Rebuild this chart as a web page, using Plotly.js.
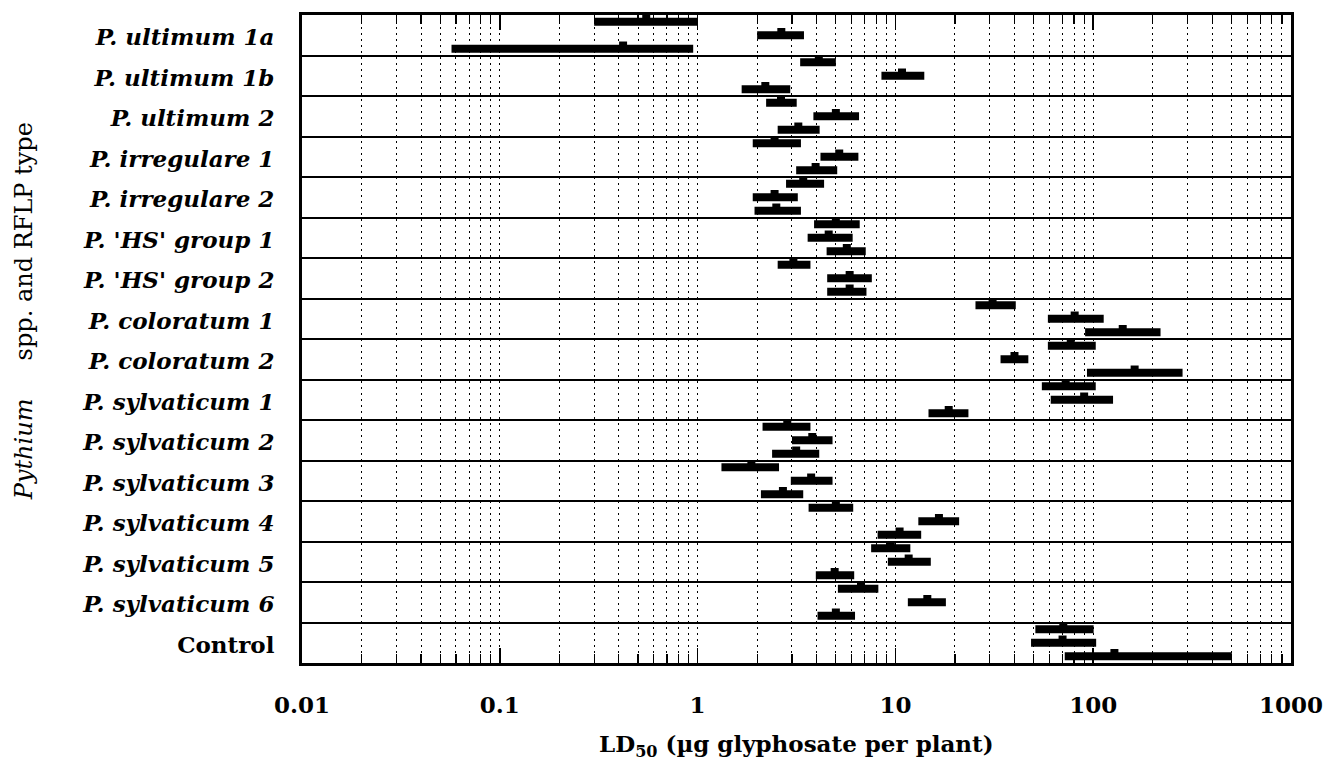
<!DOCTYPE html>
<html><head><meta charset="utf-8">
<script src="https://cdn.plot.ly/plotly-3.0.1.min.js"></script>
<style>html,body{margin:0;padding:0;background:#fff}#chart{width:1332px;height:781px}</style>
</head><body><div id="chart"></div>
<script>
// Pythium spp. / RFLP types (top to bottom)
const groupLabels = [
  "P. ultimum 1a", "P. ultimum 1b", "P. ultimum 2", "P. irregulare 1",
  "P. irregulare 2", "P. 'HS' group 1", "P. 'HS' group 2", "P. coloratum 1",
  "P. coloratum 2", "P. sylvaticum 1", "P. sylvaticum 2", "P. sylvaticum 3",
  "P. sylvaticum 4", "P. sylvaticum 5", "P. sylvaticum 6", "Control"
];
const italicLabel = [true,true,true,true,true,true,true,true,true,true,true,true,true,true,true,false];
// three isolates/runs per group, listed top to bottom
const lowValues = [
  0.30, 2.0, 0.057,
  3.3, 8.5, 1.67,
  2.22, 3.85, 2.54,
  1.9, 4.18, 3.15,
  2.8, 1.9, 1.94,
  3.88, 3.6, 4.49,
  2.54, 4.52, 4.52,
  25.4, 59, 91,
  59, 34, 93,
  55, 61, 14.7,
  2.13, 3.0, 2.38,
  1.32, 2.96, 2.09,
  3.64, 13.06, 8.13,
  7.54, 9.16, 3.96,
  5.12, 11.56, 4.04,
  51, 48.5, 71.8
];
const ld50Values = [
  0.55, 2.65, 0.42,
  4.1, 10.8, 2.2,
  2.64, 5.0, 3.23,
  2.45, 5.2, 3.95,
  3.42, 2.45, 2.5,
  5.0, 4.6, 5.68,
  3.05, 5.87, 5.87,
  31, 80.6, 141,
  77, 40, 162,
  72.6, 90, 18.6,
  2.84, 3.8, 3.15,
  1.87, 3.75, 2.7,
  5.0, 16.6, 10.5,
  9.48, 11.67, 4.93,
  6.7, 14.5, 5.0,
  70.6, 70, 128
];
const highValues = [
  1.0, 3.45, 0.95,
  5.0, 14.0, 2.94,
  3.17, 6.55, 4.14,
  3.33, 6.5, 5.08,
  4.36, 3.21, 3.33,
  6.6, 6.08, 7.08,
  3.72, 7.6, 7.14,
  40.6, 113, 219,
  103, 47, 283,
  103, 126, 23.4,
  3.72, 4.81, 4.12,
  2.58, 4.81, 3.42,
  6.12, 21.0, 13.5,
  11.9, 15.1, 6.19,
  8.2, 18.0, 6.25,
  100.5, 103.5, 502
];
const decadeTicks = [0.01, 0.1, 1, 10, 100, 1000];
const decadeText = ["0.01", "0.1", "1", "10", "100", "1000"];

const SLOTS = 3;
const nGroups = groupLabels.length;
const slotY = i => i + 0.5;

// bar segments
const segX = [], segY = [];
lowValues.forEach((lo, i) => {
  segX.push(lo, highValues[i], null);
  segY.push(slotY(i), slotY(i), null);
});
const bumpY = ld50Values.map((v, i) => slotY(i) - 0.24);

// minor tick positions (2..9 per decade)
const minorVals = [];
for (let d = 0; d < decadeTicks.length - 1; d++) {
  for (let k = 2; k <= 9; k++) minorVals.push(decadeTicks[d] * k);
}
const groupCenters = groupLabels.map((_, g) => g * SLOTS + SLOTS / 2 + 0.15);
const separators = [];
for (let g = 1; g < nGroups; g++) separators.push(g * SLOTS);

const traces = [
  {
    type: 'scatter', mode: 'lines', x: segX, y: segY,
    line: {color: '#000', width: 8}, hoverinfo: 'skip', showlegend: false, connectgaps: false
  },
  {
    type: 'scatter', mode: 'markers', x: ld50Values, y: bumpY,
    marker: {symbol: 'square', size: 8, color: '#000'}, showlegend: false
  }
];

const serif = 'DejaVu Serif, Liberation Serif, serif';
const layout = {
  width: 1332, height: 781,
  margin: {l: 302, r: 41, t: 15, b: 118},
  paper_bgcolor: '#fff', plot_bgcolor: '#fff',
  showlegend: false,
  xaxis: {
    type: 'log', range: [-2, 3],
    tickmode: 'array', tickvals: decadeTicks, ticktext: decadeText,
    ticks: 'inside', ticklen: 15, tickwidth: 1.5, tickcolor: '#000',
    showgrid: true, gridcolor: '#000', gridwidth: 1, griddash: '2px,4px',
    minor: {tickmode: 'array', tickvals: minorVals, ticks: 'inside', ticklen: 9, tickwidth: 1.2, tickcolor: '#000',
            showgrid: true, gridcolor: '#000', gridwidth: 1, griddash: '2px,4px'},
    showline: true, linecolor: '#000', linewidth: 3, mirror: 'allticks',
    tickfont: {family: serif, size: 23, color: '#000', weight: 'bold'},
    ticklabelstandoff: 19,
    zeroline: false
  },
  yaxis: {
    range: [nGroups * SLOTS, 0],
    tickmode: 'array', tickvals: groupCenters,
    ticktext: groupLabels.map((t, g) => italicLabel[g] ? '<i>' + t + '</i>' : t),
    ticks: '', showgrid: false,
    minor: {tickmode: 'array', tickvals: separators, ticks: '', showgrid: true, gridcolor: '#000', gridwidth: 2},
    showline: true, linecolor: '#000', linewidth: 3, mirror: true,
    tickfont: {family: serif, size: 23, color: '#000', weight: 'bold'},
    ticklabelstandoff: 20,
    zeroline: false
  },
  annotations: [
    {
      xref: 'paper', yref: 'paper', x: 0.5, y: -0.128, xanchor: 'center', yanchor: 'middle',
      text: 'LD<sub>50</sub> (µg glyphosate per plant)', showarrow: false,
      font: {family: serif, size: 23, color: '#000', weight: 'bold'}
    },
    {
      xref: 'paper', yref: 'paper', x: -0.281, y: 0.543, xanchor: 'center', yanchor: 'middle',
      textangle: -90,
      text: '<i>Pythium</i>\u00a0\u00a0\u00a0\u00a0 spp. and RFLP type', showarrow: false,
      font: {family: serif, size: 24, color: '#000'}
    }
  ]
};

Plotly.newPlot('chart', traces, layout, {staticPlot: true});
</script>
</body></html>
